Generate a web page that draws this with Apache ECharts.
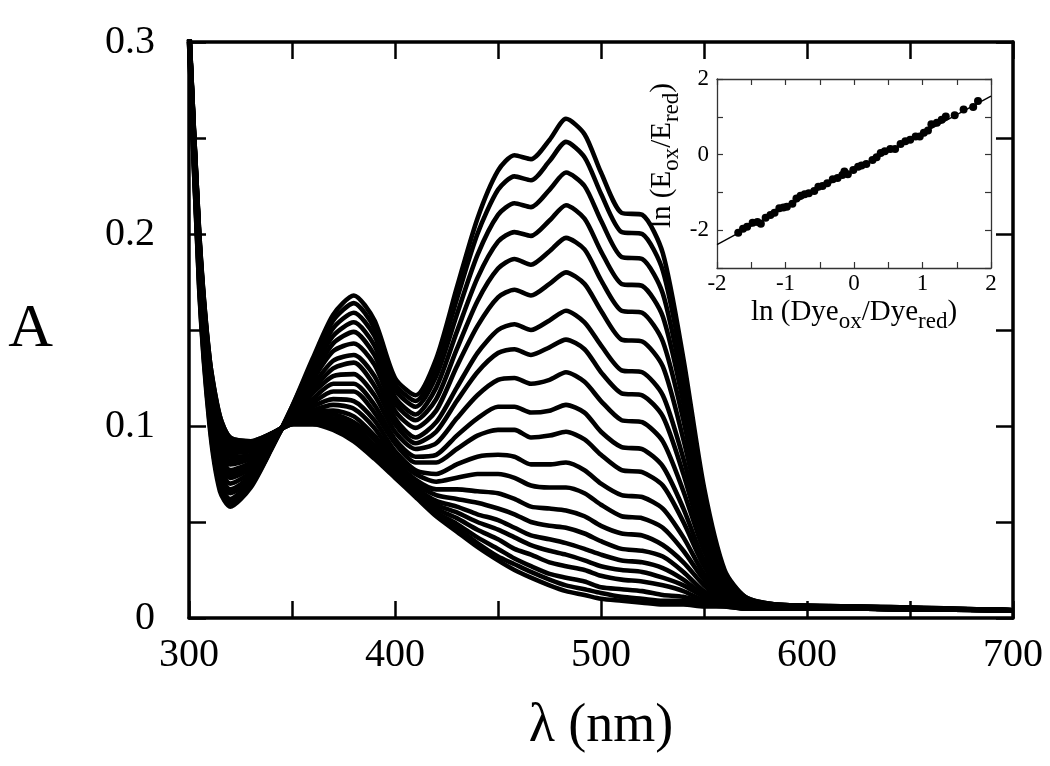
<!DOCTYPE html>
<html>
<head>
<meta charset="utf-8">
<script src="https://cdn.jsdelivr.net/npm/echarts@6.0.0/dist/echarts.min.js"></script>
<style>
html,body{margin:0;padding:0;background:#ffffff;}
#chart{width:1050px;height:766px;}
</style>
</head>
<body>
<div id="chart"></div>
<script>
// ---------------- DATA ----------------
// wavelength grid (nm)
const wavelengths = [300,305,310,315,320,330,340,350,360,370,380,390,400,410,420,430,440,450,458,466,475,483,492,500,510,520,530,540,550,560,570,585,620,700];

// absorbance spectra, from the most oxidized (top at 483 nm) to the most reduced
const s01 = [.300,.170,.100,.066,.058,.068,.088,.110,.135,.158,.168,.155,.125,.116,.135,.172,.208,.233,.241,.239,.249,.260,.252,.232,.211,.210,.190,.135,.068,.025,.011,.007,.006,.004];
const s02 = [.300,.171,.102,.068,.060,.069,.088,.110,.133,.155,.164,.151,.122,.113,.131,.166,.200,.223,.230,.228,.238,.248,.240,.221,.201,.200,.181,.129,.065,.024,.011,.007,.006,.004];
const s03 = [.301,.173,.104,.070,.062,.071,.089,.109,.131,.151,.159,.147,.119,.110,.126,.158,.189,.210,.216,.214,.223,.232,.225,.207,.188,.187,.169,.120,.061,.023,.010,.007,.006,.004];
const s04 = [.302,.175,.106,.073,.065,.072,.089,.108,.129,.147,.154,.142,.115,.106,.120,.149,.177,.196,.201,.199,.207,.215,.208,.191,.174,.173,.157,.112,.057,.022,.010,.007,.006,.004];
const s05 = [.303,.178,.109,.076,.067,.074,.090,.108,.126,.143,.149,.137,.112,.103,.114,.140,.165,.182,.187,.184,.191,.198,.192,.176,.160,.159,.144,.103,.052,.020,.009,.006,.006,.004];
const s06 = [.303,.180,.111,.079,.070,.076,.091,.107,.124,.139,.143,.132,.108,.099,.108,.131,.152,.167,.171,.168,.174,.180,.174,.160,.145,.144,.131,.093,.048,.019,.009,.006,.006,.004];
const s07 = [.304,.182,.114,.082,.073,.078,.091,.106,.121,.134,.137,.126,.104,.094,.102,.120,.138,.150,.153,.150,.155,.160,.154,.142,.129,.128,.116,.083,.043,.017,.009,.006,.005,.004];
const s08 = [.305,.184,.116,.084,.075,.079,.092,.106,.119,.130,.133,.121,.101,.091,.097,.113,.128,.138,.140,.137,.141,.145,.140,.128,.117,.116,.105,.075,.039,.016,.008,.006,.005,.004];
const s09 = [.305,.186,.119,.087,.077,.081,.092,.105,.117,.126,.127,.116,.097,.088,.091,.104,.116,.124,.125,.122,.124,.128,.123,.113,.103,.102,.092,.066,.035,.015,.008,.006,.005,.004];
const s10 = [.306,.188,.121,.090,.080,.083,.093,.105,.114,.122,.122,.111,.093,.084,.085,.095,.104,.110,.110,.107,.108,.111,.107,.097,.089,.088,.079,.057,.030,.013,.007,.006,.005,.004];
const s11 = [.307,.190,.123,.092,.082,.084,.093,.104,.112,.118,.118,.107,.091,.081,.081,.088,.095,.098,.098,.094,.095,.097,.093,.085,.077,.076,.069,.050,.027,.012,.007,.006,.005,.004];
const s12 = [.307,.192,.125,.094,.084,.085,.094,.103,.110,.114,.113,.103,.087,.077,.075,.080,.084,.085,.084,.080,.080,.081,.077,.070,.064,.063,.057,.042,.023,.011,.007,.006,.005,.004];
const s13 = [.308,.193,.127,.096,.086,.087,.094,.103,.108,.111,.109,.099,.084,.075,.071,.073,.075,.075,.073,.069,.068,.068,.065,.059,.053,.052,.047,.035,.020,.010,.006,.005,.005,.004];
const s14 = [.308,.195,.129,.098,.088,.088,.095,.103,.107,.108,.105,.095,.082,.072,.067,.067,.066,.065,.062,.058,.057,.056,.053,.048,.044,.043,.038,.029,.017,.009,.006,.005,.005,.004];
const s15 = [.309,.196,.130,.100,.089,.089,.095,.102,.106,.106,.102,.093,.080,.070,.064,.062,.060,.057,.054,.050,.048,.047,.044,.040,.036,.035,.032,.024,.014,.009,.006,.005,.005,.004];
const s16 = [.309,.197,.131,.101,.090,.090,.095,.102,.104,.104,.100,.090,.078,.068,.061,.058,.054,.051,.047,.043,.041,.039,.036,.033,.030,.029,.026,.020,.012,.008,.006,.005,.005,.004];
const s17 = [.309,.198,.132,.102,.091,.090,.095,.102,.104,.103,.098,.089,.077,.067,.059,.055,.050,.046,.042,.038,.035,.033,.030,.027,.025,.024,.021,.017,.011,.007,.005,.005,.005,.004];
const s18 = [.309,.198,.133,.103,.092,.091,.096,.101,.103,.101,.096,.087,.076,.066,.057,.052,.046,.041,.036,.033,.029,.027,.025,.022,.020,.019,.017,.014,.009,.007,.005,.005,.005,.004];
const s19 = [.310,.199,.134,.104,.093,.091,.096,.101,.102,.100,.094,.085,.074,.064,.055,.049,.042,.036,.031,.027,.023,.021,.019,.016,.015,.014,.012,.011,.008,.007,.005,.005,.005,.004];
const s20 = [.310,.200,.135,.105,.094,.092,.096,.101,.101,.099,.093,.084,.074,.064,.054,.047,.039,.032,.028,.024,.020,.017,.015,.013,.011,.010,.009,.009,.007,.006,.005,.005,.005,.004];
const s21 = [.310,.200,.135,.105,.094,.092,.096,.101,.101,.098,.092,.083,.073,.063,.053,.045,.037,.030,.025,.021,.017,.014,.012,.010,.009,.008,.007,.007,.006,.006,.005,.005,.005,.004];
const spectra = [s01,s02,s03,s04,s05,s06,s07,s08,s09,s10,s11,s12,s13,s14,s15,s16,s17,s18,s19,s20,s21];

// inset: ln(Dye_ox/Dye_red) vs ln(E_ox/E_red)
const insetX = [-1.69,-1.62,-1.56,-1.48,-1.41,-1.36,-1.29,-1.22,-1.16,-1.09,-1.03,-0.98,-0.90,-0.84,-0.78,-0.72,-0.66,-0.58,-0.52,-0.46,-0.39,-0.31,-0.24,-0.17,-0.14,-0.09,-0.01,0.06,0.11,0.18,0.27,0.33,0.39,0.45,0.53,0.60,0.68,0.75,0.82,0.90,0.96,1.02,1.08,1.13,1.21,1.28,1.34,1.47,1.60,1.74,1.81];
const insetY = [-2.07,-1.96,-1.91,-1.80,-1.78,-1.83,-1.67,-1.60,-1.54,-1.42,-1.40,-1.38,-1.30,-1.16,-1.09,-1.05,-1.02,-0.96,-0.85,-0.83,-0.76,-0.65,-0.62,-0.54,-0.45,-0.52,-0.41,-0.32,-0.29,-0.25,-0.14,-0.07,0.04,0.09,0.15,0.15,0.28,0.35,0.39,0.48,0.48,0.58,0.64,0.80,0.84,0.92,1.01,1.04,1.19,1.26,1.42];
const fitX = [-2, 2];
const fitY = [-2.38, 1.55];

// tick values
const mainXTicks = {min:300, max:700, step:50};
const mainYTicks = {min:0, max:0.3, step:0.05};
const insetXTicks = {min:-2, max:2, step:0.5};
const insetYTicks = {min:-3, max:2, step:1};

// ---------------- CHART ----------------
const FONT = '"Liberation Serif", "Times New Roman", serif';
const chart = echarts.init(document.getElementById('chart'), null, {renderer:'canvas'});

const mainLine = {show:true, onZero:false, lineStyle:{color:'#000', width:3.5}};
const mainTick = {show:true, inside:true, length:17, lineStyle:{color:'#000', width:2.5}};
const insetLine = {show:true, onZero:false, lineStyle:{color:'#333', width:1.3}};
const insetTick = {show:true, inside:true, length:6, lineStyle:{color:'#333', width:1.2}};

const big = {fontFamily:FONT, fontSize:29, color:'#000', lineHeight:42, verticalAlign:'middle'};
const sub = {fontFamily:FONT, fontSize:23, color:'#000', verticalAlign:'bottom'};

const series = spectra.map((s, k) => ({
  type:'line', name:'spectrum ' + (k+1), xAxisIndex:0, yAxisIndex:0,
  data: wavelengths.map((w, i) => [w, s[i]]),
  showSymbol:false, symbol:'none', smooth:0.25, clip:true, silent:true,
  lineStyle:{color:'#000', width:4.6}
}));
series.push({
  type:'line', name:'fit', xAxisIndex:2, yAxisIndex:2,
  data: fitX.map((x, i) => [x, fitY[i]]),
  showSymbol:false, symbol:'none', silent:true,
  lineStyle:{color:'#000', width:1.4}
});
series.push({
  type:'scatter', name:'points', xAxisIndex:2, yAxisIndex:2,
  data: insetX.map((x, i) => [x, insetY[i]]),
  symbol:'circle', symbolSize:8, silent:true,
  itemStyle:{color:'#000', opacity:1}
});

const option = {
  animation:false,
  backgroundColor:'#ffffff',
  grid:[
    {left:189, top:42, width:824, height:576, containLabel:false, outerBoundsMode:'none'},
    {left:717, top:79, width:274, height:189, containLabel:false, outerBoundsMode:'none', show:true, backgroundColor:'#ffffff', borderWidth:0}
  ],
  xAxis:[
    {gridIndex:0, type:'value', position:'bottom', min:mainXTicks.min, max:mainXTicks.max, interval:mainXTicks.step,
     axisLine:mainLine, axisTick:mainTick, splitLine:{show:false},
     axisLabel:{fontFamily:FONT, fontSize:40, color:'#000', margin:17, formatter:v => (v % 100 === 0 ? String(v) : '')},
     name:'λ (nm)', nameLocation:'middle', nameGap:82,
     nameTextStyle:{fontFamily:FONT, fontSize:54, color:'#000'}},
    {gridIndex:0, type:'value', position:'top', min:mainXTicks.min, max:mainXTicks.max, interval:mainXTicks.step,
     axisLine:mainLine, axisTick:mainTick, splitLine:{show:false}, axisLabel:{show:false}},
    {gridIndex:1, type:'value', position:'bottom', min:insetXTicks.min, max:insetXTicks.max, interval:insetXTicks.step,
     axisLine:insetLine, axisTick:insetTick, splitLine:{show:false},
     axisLabel:{fontFamily:FONT, fontSize:23, color:'#000', margin:4, formatter:v => (Number.isInteger(v) ? String(v) : '')},
     name:'{a|ln (Dye}{s|ox}{a|/Dye}{s|red}{a|)}', nameLocation:'middle', nameGap:23,
     nameTextStyle:{rich:{a:big, s:sub}}},
    {gridIndex:1, type:'value', position:'top', min:insetXTicks.min, max:insetXTicks.max, interval:insetXTicks.step,
     axisLine:insetLine, axisTick:insetTick, splitLine:{show:false}, axisLabel:{show:false}}
  ],
  yAxis:[
    {gridIndex:0, type:'value', position:'left', min:mainYTicks.min, max:mainYTicks.max, interval:mainYTicks.step,
     axisLine:mainLine, axisTick:mainTick, splitLine:{show:false},
     axisLabel:{fontFamily:FONT, fontSize:40, color:'#000', margin:34,
       formatter:v => { const r = Math.round(v * 100); return r % 10 === 0 ? (r === 0 ? '0' : (r / 100).toFixed(1)) : ''; }},
     name:'A', nameLocation:'middle', nameRotate:0, nameGap:136,
     nameTextStyle:{fontFamily:FONT, fontSize:62, color:'#000', padding:[0,0,14,0]}},
    {gridIndex:0, type:'value', position:'right', min:mainYTicks.min, max:mainYTicks.max, interval:mainYTicks.step,
     axisLine:mainLine, axisTick:mainTick, splitLine:{show:false}, axisLabel:{show:false}},
    {gridIndex:1, type:'value', position:'left', min:insetYTicks.min, max:insetYTicks.max, interval:insetYTicks.step,
     axisLine:insetLine, axisTick:insetTick, splitLine:{show:false},
     axisLabel:{fontFamily:FONT, fontSize:23, color:'#000', margin:8, formatter:v => (v % 2 === 0 ? String(v) : '')},
     name:'{a|ln (E}{s|ox}{a|/E}{s|red}{a|)}', nameLocation:'middle', nameRotate:90, nameGap:34,
     nameTextStyle:{rich:{a:big, s:sub}, padding:[0,0,0,36]}},
    {gridIndex:1, type:'value', position:'right', min:insetYTicks.min, max:insetYTicks.max, interval:insetYTicks.step,
     axisLine:insetLine, axisTick:insetTick, splitLine:{show:false}, axisLabel:{show:false}}
  ],
  series: series
};
chart.setOption(option);
</script>
</body>
</html>
